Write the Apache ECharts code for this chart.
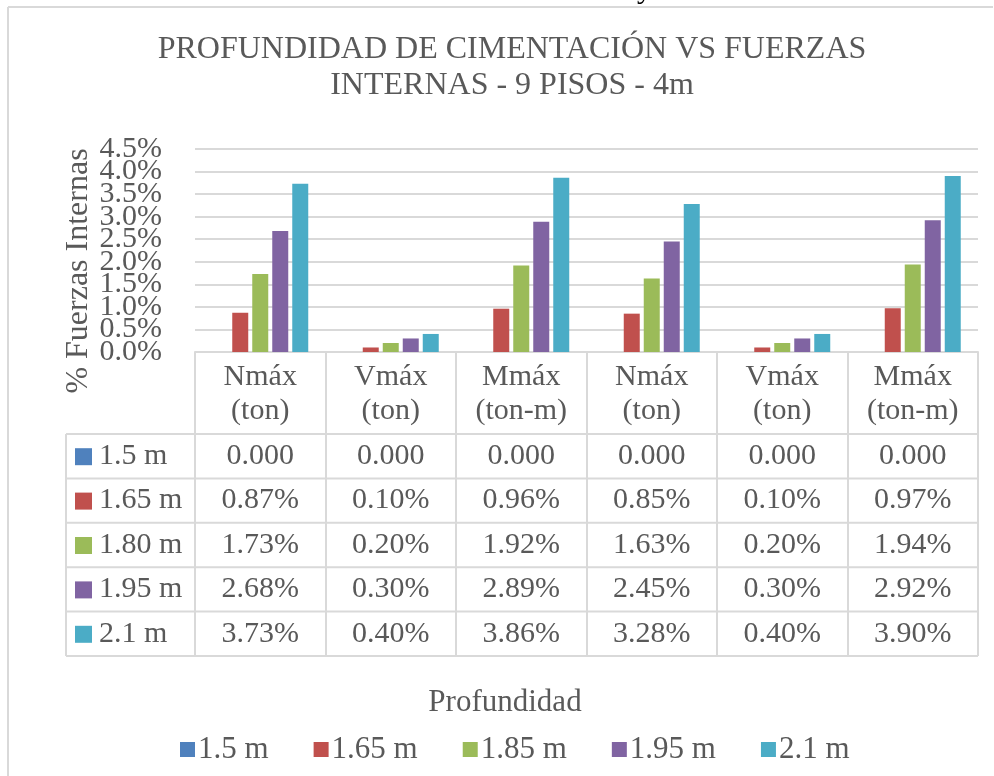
<!DOCTYPE html>
<html>
<head>
<meta charset="utf-8">
<script src="https://cdn.jsdelivr.net/npm/echarts@6/dist/echarts.min.js"></script>
<style>
  html, body { margin: 0; padding: 0; background: #fff; }
  #chart { width: 994px; height: 776px; }
</style>
</head>
<body>
<div id="chart"></div>
<script>
// Categories along the x axis (two-line labels)
const categories = ['Nmáx\n(ton)', 'Vmáx\n(ton)', 'Mmáx\n(ton-m)', 'Nmáx\n(ton)', 'Vmáx\n(ton)', 'Mmáx\n(ton-m)'];

// Series names shown in the legend and row labels shown in the data table
const legendNames = ['1.5 m', '1.65 m', '1.85 m', '1.95 m', '2.1 m'];
const tableRowLabels = ['1.5 m', '1.65 m', '1.80 m', '1.95 m', '2.1 m'];

// Values in percent for each foundation depth
const depth150 = [0, 0, 0, 0, 0, 0];
const depth165 = [0.87, 0.10, 0.96, 0.85, 0.10, 0.97];
const depth180 = [1.73, 0.20, 1.92, 1.63, 0.20, 1.94];
const depth195 = [2.68, 0.30, 2.89, 2.45, 0.30, 2.92];
const depth210 = [3.73, 0.40, 3.86, 3.28, 0.40, 3.90];

// Value axis ticks
const yMin = 0, yMax = 4.5, yStep = 0.5;
const yTicks = [0, 0.5, 1, 1.5, 2, 2.5, 3, 3.5, 4, 4.5];

const seriesData = [depth150, depth165, depth180, depth195, depth210];
const colors = ['#4F81BD', '#C0504D', '#9BBB59', '#8064A2', '#4BACC6'];
const textColor = '#595959';
const lineColor = '#D9D9D9';
const serif = '"Liberation Serif", "Times New Roman", serif';

const gridLeft = 195, gridRight = 16, gridTop = 149, gridBottomY = 352;
const tableTop = 434, rowH = 44.4, tableLeft = 66;

const chart = echarts.init(document.getElementById('chart'), null, { renderer: 'canvas' });

const option = {
  animation: false,
  backgroundColor: '#fff',
  color: colors,
  textStyle: { fontFamily: serif, color: textColor },
  title: [
    {
      text: 'PROFUNDIDAD DE CIMENTACIÓN VS FUERZAS\nINTERNAS - 9 PISOS - 4m',
      left: 507, top: 27, textAlign: 'center',
      textStyle: { fontFamily: serif, fontSize: 32, lineHeight: 36, fontWeight: 'normal', color: textColor }
    },
    {
      text: 'Profundidad',
      left: 500, top: 681, textAlign: 'center',
      textStyle: { fontFamily: serif, fontSize: 31, lineHeight: 34, fontWeight: 'normal', color: textColor }
    }
  ],
  legend: {
    data: legendNames,
    left: 180, top: 734, padding: 0,
    icon: 'rect', itemWidth: 15, itemHeight: 15, itemGap: 45,
    textStyle: { fontFamily: serif, fontSize: 31, color: textColor, padding: [0, 0, 0, -2] }
  },
  grid: { left: gridLeft, right: gridRight, top: gridTop, bottom: 776 - gridBottomY, containLabel: false },
  xAxis: {
    type: 'category',
    data: categories,
    boundaryGap: true,
    axisLine: { lineStyle: { color: lineColor, width: 2 } },
    axisTick: { show: true, inside: false, length: tableTop + rowH * 5 - gridBottomY, alignWithLabel: false,
                lineStyle: { color: lineColor, width: 2 } },
    axisLabel: { fontFamily: serif, fontSize: 30, lineHeight: 34, color: textColor, margin: 8, interval: 0 }
  },
  yAxis: {
    type: 'value', min: yMin, max: yMax, interval: yStep,
    axisLine: { show: false }, axisTick: { show: false },
    splitLine: { lineStyle: { color: lineColor, width: 2 } },
    // the tightly stacked tick labels are placed below, one per tick value
    axisLabel: { show: false }
  },
  series: seriesData.map((d, i) => ({
    name: legendNames[i], type: 'bar', data: d,
    barWidth: 16, barGap: '25%'
  }))
};
chart.setOption(option);

const graphics = [];

// Value axis tick labels, positioned through the axis scale
yTicks.forEach(v => {
  const py = chart.convertToPixel({ yAxisIndex: 0 }, v);
  graphics.push({ type: 'text', silent: true, x: gridLeft - 33, y: py,
    style: { text: v.toFixed(1) + '%', font: '30px ' + serif, fill: textColor, align: 'right', verticalAlign: 'middle' } });
});

// Data table under the axis: horizontal rules, row keys and values
function fmt(rowIdx, v) {
  return rowIdx === 0 ? v.toFixed(3) : v.toFixed(2) + '%';
}
const tableRight = 994 - gridRight;
for (let r = 0; r <= 5; r++) {
  graphics.push({ type: 'line', silent: true,
    shape: { x1: tableLeft, y1: tableTop + r * rowH, x2: tableRight, y2: tableTop + r * rowH },
    style: { stroke: lineColor, lineWidth: 2 } });
}
graphics.push({ type: 'line', silent: true,
  shape: { x1: tableLeft, y1: tableTop, x2: tableLeft, y2: tableTop + 5 * rowH },
  style: { stroke: lineColor, lineWidth: 2 } });
tableRowLabels.forEach((lab, r) => {
  const cy = tableTop + r * rowH + rowH / 2;
  graphics.push({ type: 'rect', silent: true, shape: { x: 75, y: cy - 8, width: 17, height: 17 },
    style: { fill: colors[r] } });
  graphics.push({ type: 'text', silent: true, x: 99, y: cy,
    style: { text: lab, font: '30px ' + serif, fill: textColor, verticalAlign: 'middle' } });
  seriesData[r].forEach((v, c) => {
    const cx = chart.convertToPixel({ xAxisIndex: 0 }, c);
    graphics.push({ type: 'text', silent: true, x: cx, y: cy,
      style: { text: fmt(r, v), font: '30px ' + serif, fill: textColor, align: 'center', verticalAlign: 'middle' } });
  });
});
// Value axis title
graphics.push({ type: 'text', silent: true, x: 79, y: 271, rotation: Math.PI / 2,
  style: { text: '% Fuerzas Internas', font: '32px ' + serif, fill: textColor, align: 'center', verticalAlign: 'middle' } });
// Chart area frame (top and left edges)
graphics.push({ type: 'line', silent: true, shape: { x1: 8, y1: 7, x2: 993, y2: 7 }, style: { stroke: lineColor, lineWidth: 2 } });
graphics.push({ type: 'line', silent: true, shape: { x1: 8, y1: 7, x2: 8, y2: 776 }, style: { stroke: lineColor, lineWidth: 2 } });
// Descender of a caption above the frame
graphics.push({ type: 'text', silent: true, x: 637, y: -25,
  style: { text: 'y', font: '30px ' + serif, fill: '#000', verticalAlign: 'top' } });

chart.setOption({ graphic: graphics });
</script>
</body>
</html>
